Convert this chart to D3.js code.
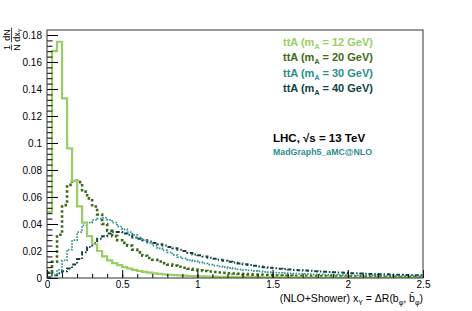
<!DOCTYPE html>
<html>
<head>
<meta charset="utf-8">
<script src="https://cdn.jsdelivr.net/npm/d3@7"></script>
<style>
  body { margin: 0; background: #fff; }
  svg text { font-family: "Liberation Sans", Arial, Helvetica, sans-serif; }
</style>
</head>
<body>
<div id="chart"></div>
<script>
// Chart size and frame
const width = 472;
const height = 311;
const margin = { top: 30, right: 48, bottom: 33, left: 47 };

// Binning: 75 bins from 0 to 2.5
const nBins = 75;
const xMin = 0;
const xMax = 2.5;

// Series values (normalised distributions), one per bin
const m12 = [0.049, 0.168, 0.175, 0.133, 0.096, 0.072, 0.053, 0.041, 0.031, 0.025,
  0.020, 0.016, 0.013, 0.011, 0.0095, 0.008, 0.007, 0.006, 0.0052, 0.0046,
  0.004, 0.0035, 0.0031, 0.0027, 0.0024, 0.0021, 0.0019, 0.0017, 0.0015, 0.0014,
  0.0013, 0.0012, 0.0011, 0.001, 0.0009, 0.0009, 0.0008, 0.0008, 0.0007, 0.0007,
  0.0006, 0.0006, 0.0006, 0.0005, 0.0005, 0.0005, 0.0005, 0.0004, 0.0004, 0.0004,
  0.0004, 0.0004, 0.0003, 0.0003, 0.0003, 0.0003, 0.0003, 0.0003, 0.0003, 0.0003,
  0.0002, 0.0002, 0.0002, 0.0002, 0.0002, 0.0002, 0.0002, 0.0002, 0.0002, 0.0002,
  0.0002, 0.0002, 0.0002, 0.0002, 0.0002];

const m20 = [0.004, 0.012, 0.032, 0.054, 0.069, 0.072, 0.071, 0.064, 0.059, 0.053,
  0.047, 0.040, 0.035, 0.031, 0.028, 0.026, 0.024, 0.021, 0.019, 0.0165,
  0.0148, 0.0135, 0.0122, 0.011, 0.0099, 0.0092, 0.0083, 0.0076, 0.0068, 0.0062,
  0.0057, 0.0052, 0.0048, 0.0045, 0.0041, 0.0038, 0.0035, 0.0033, 0.0031, 0.0029,
  0.0027, 0.0025, 0.0024, 0.0022, 0.0021, 0.0019, 0.0018, 0.0017, 0.0016, 0.0015,
  0.0015, 0.0014, 0.0014, 0.0013, 0.0013, 0.0012, 0.0012, 0.0011, 0.0011, 0.001,
  0.001, 0.0009, 0.0009, 0.0009, 0.0008, 0.0008, 0.0008, 0.0007, 0.0007, 0.0007,
  0.0006, 0.0006, 0.0006, 0.0005, 0.0005];

const m30 = [0.001, 0.002, 0.006, 0.013, 0.021, 0.028, 0.034, 0.039, 0.041, 0.043,
  0.044, 0.0445, 0.043, 0.041, 0.038, 0.036, 0.034, 0.032, 0.030, 0.028,
  0.026, 0.024, 0.022, 0.0205, 0.019, 0.017, 0.0155, 0.0145, 0.0133, 0.0125,
  0.0115, 0.0108, 0.0099, 0.0092, 0.0086, 0.008, 0.0074, 0.0069, 0.0064, 0.006,
  0.0056, 0.0052, 0.0049, 0.0046, 0.0043, 0.004, 0.0038, 0.0036, 0.0034, 0.0032,
  0.0031, 0.003, 0.0028, 0.0027, 0.0026, 0.0025, 0.0024, 0.0023, 0.0022, 0.0021,
  0.002, 0.002, 0.0019, 0.0018, 0.0018, 0.0017, 0.0016, 0.0016, 0.0015, 0.0015,
  0.0014, 0.0014, 0.0013, 0.0013, 0.0012];

const m40 = [0.0005, 0.002, 0.0035, 0.005, 0.007, 0.010, 0.014, 0.019, 0.023, 0.026,
  0.029, 0.031, 0.033, 0.034, 0.034, 0.033, 0.032, 0.030, 0.029, 0.028,
  0.027, 0.026, 0.025, 0.024, 0.023, 0.022, 0.021, 0.020, 0.0185, 0.0175,
  0.0168, 0.016, 0.015, 0.0143, 0.0135, 0.0128, 0.012, 0.0114, 0.0108, 0.0102,
  0.0096, 0.009, 0.0085, 0.008, 0.0076, 0.0072, 0.0069, 0.0066, 0.0063, 0.006,
  0.0057, 0.0055, 0.0053, 0.005, 0.0048, 0.0046, 0.0044, 0.0042, 0.004, 0.0038,
  0.0036, 0.0035, 0.0033, 0.0032, 0.003, 0.0029, 0.0028, 0.0027, 0.0026, 0.0025,
  0.0024, 0.0023, 0.0022, 0.0021, 0.002];

const seriesLabels = ["12", "20", "30", "40"];
const seriesValues = [m12, m20, m30, m40];
const seriesColors = ["#98cf63", "#3b6b10", "#2a8f8c", "#0f4442"];

// Tick values
const xTicks = [0, 0.5, 1, 1.5, 2, 2.5];
const yTicks = [0, 0.02, 0.04, 0.06, 0.08, 0.1, 0.12, 0.14, 0.16, 0.18];
const yMax = 0.1837;

const svg = d3.select("#chart")
  .append("svg")
  .attr("width", width)
  .attr("height", height);

const x = d3.scaleLinear()
  .domain([xMin, xMax])
  .range([margin.left, width - margin.right - 1]);

const y = d3.scaleLinear()
  .domain([0, yMax])
  .range([height - margin.bottom, margin.top]);

// Clip for the histograms
svg.append("clipPath")
  .attr("id", "clip")
  .append("rect")
  .attr("x", x(xMin))
  .attr("y", y(yMax))
  .attr("width", x(xMax) - x(xMin))
  .attr("height", y(0) - y(yMax));

// Histogram outlines
const binW = (xMax - xMin) / nBins;
const line = d3.line().x((d) => x(d[0])).y((d) => y(d[1]));

function stepPoints(vals) {
  const pts = [];
  vals.forEach((v, i) => {
    pts.push([xMin + i * binW, v]);
    pts.push([xMin + (i + 1) * binW, v]);
  });
  return pts;
}

const styles = [
  { w: 2.2, dash: null },
  { w: 2.6, dash: "2.5,2.5" },
  { w: 1.8, dash: "1.5,1.5" },
  { w: 2.0, dash: "4,2,1.5,2" },
];

const histG = svg.append("g").attr("clip-path", "url(#clip)");
[3, 2, 1, 0].forEach((k) => {
  histG.append("path")
    .attr("d", line(stepPoints(seriesValues[k])))
    .attr("fill", "none")
    .attr("stroke", seriesColors[k])
    .attr("stroke-width", styles[k].w)
    .attr("stroke-dasharray", styles[k].dash);
});

// Axes (ticks inside the frame, ROOT style)
const fmt = (d) => String(+d.toFixed(2));

const yMinor = d3.range(0, yMax, 0.004);
svg.append("g")
  .attr("transform", `translate(${x(xMin)},0)`)
  .call(d3.axisLeft(y).tickValues(yMinor).tickSize(-5.5).tickFormat(""))
  .call((g) => g.select(".domain").remove());

svg.append("g")
  .attr("transform", `translate(${x(xMin)},0)`)
  .call(d3.axisLeft(y).tickValues(yTicks).tickSize(-11).tickPadding(5).tickFormat(fmt))
  .call((g) => g.select(".domain").remove())
  .call((g) => g.selectAll("text").attr("font-size", 10).attr("fill", "#000"));

const xMinor = d3.range(0, 2.5001, 0.1);
svg.append("g")
  .attr("transform", `translate(0,${y(0)})`)
  .call(d3.axisBottom(x).tickValues(xMinor).tickSize(-4).tickFormat(""))
  .call((g) => g.select(".domain").remove());

svg.append("g")
  .attr("transform", `translate(0,${y(0)})`)
  .call(d3.axisBottom(x).tickValues(xTicks).tickSize(-8).tickPadding(3).tickFormat(fmt))
  .call((g) => g.select(".domain").remove())
  .call((g) => g.selectAll("text").attr("font-size", 10).attr("fill", "#000"));

// Frame
svg.append("rect")
  .attr("x", x(xMin))
  .attr("y", y(yMax))
  .attr("width", x(xMax) - x(xMin))
  .attr("height", y(0) - y(yMax))
  .attr("fill", "none")
  .attr("stroke", "#333")
  .attr("stroke-width", 1);

// X title
const xt = svg.append("text")
  .attr("x", x(xMax))
  .attr("y", 302)
  .attr("text-anchor", "end")
  .attr("font-size", 10.5);
xt.append("tspan").text("(NLO+Shower) x");
xt.append("tspan").attr("font-size", 7).attr("dy", 3).text("Y");
xt.append("tspan").attr("dy", -3).text(" = \u0394R(b");
xt.append("tspan").attr("font-size", 7).attr("dy", 3).text("\u03c6");
xt.append("tspan").attr("dy", -3).text(", b\u0304");
xt.append("tspan").attr("font-size", 7).attr("dy", 3).text("\u03c6");
xt.append("tspan").attr("dy", -3).text(")");

// Y title: 1/N dN/dx_Y rotated
const yt = svg.append("g").attr("transform", "translate(11.5,40) rotate(-90)");
yt.append("text").attr("x", -7.5).attr("y", -1.5).attr("text-anchor", "middle")
  .attr("font-size", 9).text("1");
yt.append("text").attr("x", -7.5).attr("y", 8.5).attr("text-anchor", "middle")
  .attr("font-size", 9).text("N");
yt.append("line").attr("x1", -10.5).attr("x2", -4.5).attr("y1", 0).attr("y2", 0)
  .attr("stroke", "#000").attr("stroke-width", 0.7);
yt.append("text").attr("x", 5).attr("y", -1.5).attr("text-anchor", "middle")
  .attr("font-size", 9).text("dN");
const dx = yt.append("text").attr("x", 5).attr("y", 8.5).attr("text-anchor", "middle")
  .attr("font-size", 9);
dx.append("tspan").text("dx");
dx.append("tspan").attr("font-size", 6).attr("dy", 2).text("Y");
yt.append("line").attr("x1", -2.5).attr("x2", 12.5).attr("y1", 0).attr("y2", 0)
  .attr("stroke", "#000").attr("stroke-width", 0.7);

// Legend
const legend = svg.append("g").attr("font-weight", "bold");
seriesLabels.forEach((m, i) => {
  const t = legend.append("text")
    .attr("x", 283)
    .attr("y", 46 + i * 15.4)
    .attr("font-size", 11)
    .attr("fill", seriesColors[i]);
  t.append("tspan").text("ttA (m");
  t.append("tspan").attr("font-size", 7).attr("dy", 3).text("A");
  t.append("tspan").attr("dy", -3).text(` = ${m} GeV)`);
});

// Labels
svg.append("text")
  .attr("x", 273)
  .attr("y", 142)
  .attr("font-size", 11.5)
  .attr("font-weight", "bold")
  .text("LHC, \u221as = 13 TeV");

svg.append("text")
  .attr("x", 273)
  .attr("y", 155)
  .attr("font-size", 8.8)
  .attr("font-weight", "bold")
  .attr("fill", "#2a8f8c")
  .text("MadGraph5_aMC@NLO");
</script>
</body>
</html>
